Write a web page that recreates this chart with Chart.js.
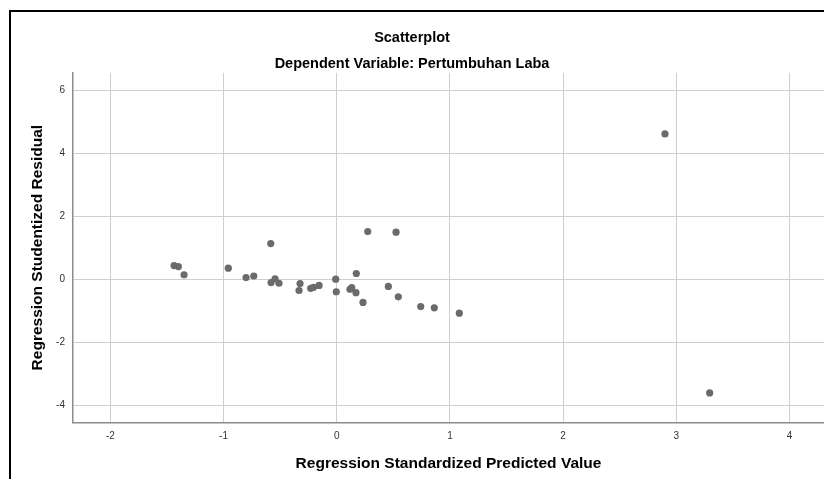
<!DOCTYPE html>
<html>
<head>
<meta charset="utf-8">
<script src="https://cdn.jsdelivr.net/npm/chart.js@4/dist/chart.umd.min.js"></script>
<style>
  html, body { margin: 0; padding: 0; background: #ffffff; }
  #wrap { width: 824px; height: 479px; position: relative; }
</style>
</head>
<body>
<div id="wrap"><canvas id="c" width="824" height="479"></canvas></div>
<script>
// ---- data ----
const chartTitle = "Scatterplot";
const chartSubtitle = "Dependent Variable: Pertumbuhan Laba";
const xAxisTitle = "Regression Standardized Predicted Value";
const yAxisTitle = "Regression Studentized Residual";

const predictedValues = [
  -1.437, -1.399, -1.349, -0.958, -0.801, -0.733, -0.583, -0.580, -0.545, -0.510,
  -0.324, -0.333, -0.230, -0.205, -0.156, -0.009, -0.004, 0.173, 0.117, 0.133,
  0.170, 0.232, 0.274, 0.456, 0.524, 0.544, 0.742, 0.862, 1.083, 2.900, 3.295
];
const studentizedResiduals = [
  0.43, 0.40, 0.14, 0.35, 0.05, 0.10, 1.13, -0.11, 0.01, -0.13,
  -0.14, -0.36, -0.29, -0.26, -0.20, 0.00, -0.40, 0.18, -0.32, -0.27,
  -0.43, -0.74, 1.51, -0.23, 1.49, -0.56, -0.87, -0.91, -1.08, 4.61, -3.61
];
const xTickValues = [-2, -1, 0, 1, 2, 3, 4];
const yTickValues = [-4, -2, 0, 2, 4, 6];
const xRange = [-2.33, 4.305];
const yRange = [-4.55, 6.55];

// ---- build ----
const points = predictedValues.map((x, i) => ({ x: x, y: studentizedResiduals[i] }));
const FONT = "'Liberation Sans', Arial, sans-serif";

const framePlugin = {
  id: 'frame',
  afterDraw(chart) {
    const ctx = chart.ctx;
    ctx.save();
    ctx.strokeStyle = '#000000';
    ctx.lineWidth = 2;
    ctx.beginPath();
    ctx.moveTo(10, 479);
    ctx.lineTo(10, 11);
    ctx.lineTo(824, 11);
    ctx.stroke();
    ctx.restore();
  }
};

new Chart(document.getElementById('c'), {
  type: 'scatter',
  data: {
    datasets: [{
      data: points,
      backgroundColor: '#6b6b6b',
      borderWidth: 0,
      pointRadius: 3.6,
      pointHoverRadius: 3.6
    }]
  },
  options: {
    responsive: false,
    animation: false,
    events: [],
    layout: { autoPadding: false, padding: { left: 0, right: 0, top: 0, bottom: 0 } },
    plugins: {
      legend: { display: false },
      tooltip: { enabled: false },
      title: {
        display: true,
        text: chartTitle,
        color: '#000000',
        font: { family: FONT, size: 14.5, weight: 'bold', lineHeight: 1.2 },
        padding: { top: 29, bottom: 0 }
      },
      subtitle: {
        display: true,
        text: chartSubtitle,
        color: '#000000',
        font: { family: FONT, size: 14.5, weight: 'bold', lineHeight: 1.2 },
        padding: { top: 9, bottom: 0 }
      }
    },
    scales: {
      x: {
        type: 'linear',
        position: 'bottom',
        min: xRange[0],
        max: xRange[1],
        afterBuildTicks(scale) { scale.ticks = xTickValues.map(v => ({ value: v })); },
        afterFit(scale) { scale.height = 56.5; scale.paddingLeft = 0; scale.paddingRight = 0; },
        ticks: {
          color: '#333333',
          font: { family: FONT, size: 10 },
          padding: 8,
          maxRotation: 0,
          autoSkip: false
        },
        grid: { color: '#cfcfcf', lineWidth: 1, drawTicks: false },
        border: { display: true, color: '#8c8c8c', width: 1.5 },
        title: {
          display: true,
          text: xAxisTitle,
          color: '#000000',
          font: { family: FONT, size: 15.5, weight: 'bold', lineHeight: 1.2 },
          padding: { top: 0, bottom: 6 }
        }
      },
      y: {
        type: 'linear',
        position: 'left',
        min: yRange[0],
        max: yRange[1],
        afterBuildTicks(scale) { scale.ticks = yTickValues.map(v => ({ value: v })); },
        afterFit(scale) { scale.width = 73; scale.paddingTop = 0; scale.paddingBottom = 0; },
        ticks: {
          color: '#333333',
          font: { family: FONT, size: 10 },
          padding: 8,
          autoSkip: false
        },
        grid: { color: '#cfcfcf', lineWidth: 1, drawTicks: false },
        border: { display: true, color: '#8c8c8c', width: 1.5 },
        title: {
          display: true,
          text: yAxisTitle,
          color: '#000000',
          font: { family: FONT, size: 15.5, weight: 'bold', lineHeight: 1.2 },
          padding: { top: 28, bottom: 0 }
        }
      }
    }
  },
  plugins: [framePlugin]
});
</script>
</body>
</html>
